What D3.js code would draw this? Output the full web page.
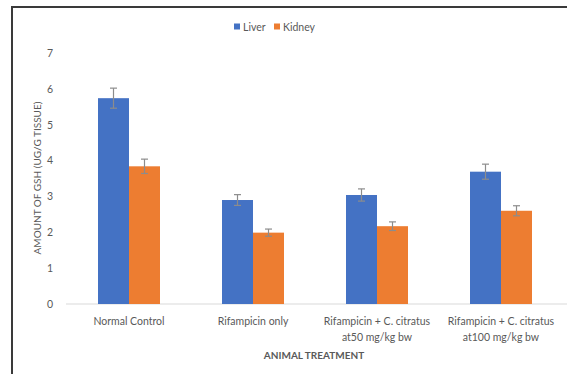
<!DOCTYPE html>
<html>
<head>
<meta charset="utf-8">
<script src="https://cdn.jsdelivr.net/npm/d3@7"></script>
<style>
  html, body { margin: 0; padding: 0; background: #fff; }
  svg { display: block; font-family: Lato, "Open Sans", sans-serif; }
</style>
</head>
<body>
<svg id="chart" width="567" height="374"></svg>
<script>
// Treatment groups (two-line labels where the axis wraps them)
const categories = [
  ["Normal Control"],
  ["Rifampicin only"],
  ["Rifampicin + C. citratus", "at50 mg/kg bw"],
  ["Rifampicin + C. citratus", "at100 mg/kg bw"]
];
const seriesNames = ["Liver", "Kidney"];
const seriesColors = ["#4472C4", "#ED7D31"];

// GSH amount (ug/g tissue), mean and error per organ
const liverValues  = [5.74, 2.90, 3.04, 3.69];
const kidneyValues = [3.84, 1.99, 2.17, 2.60];
const liverErrors  = [0.28, 0.15, 0.17, 0.21];
const kidneyErrors = [0.20, 0.10, 0.12, 0.14];

const yTicks = [0, 1, 2, 3, 4, 5, 6, 7];

const values = [liverValues, kidneyValues];
const errors = [liverErrors, kidneyErrors];

const svg = d3.select("#chart");

// Outer frame
svg.append("rect")
  .attr("x", 12).attr("y", 7)
  .attr("width", 600).attr("height", 400)
  .attr("fill", "none").attr("stroke", "#3a3a3a").attr("stroke-width", 2);

const plotLeft = 67, plotRight = 563, plotTop = 53, plotBottom = 304;

const keys = categories.map((c, i) => i);
const x0 = d3.scaleBand().domain(keys).range([plotLeft, plotRight]).padding(0);
const x1 = d3.scaleBand().domain(d3.range(seriesNames.length))
  .range([x0.bandwidth() / 4, x0.bandwidth() * 3 / 4]).padding(0);
const y = d3.scaleLinear().domain([0, 7]).range([plotBottom, plotTop]);

// Y axis tick labels (no axis line, no gridlines)
const yAxis = d3.axisLeft(y).tickValues(yTicks).tickFormat(d3.format("d"))
  .tickSize(0).tickPadding(0);
const yg = svg.append("g").attr("transform", `translate(${plotLeft - 14},0)`).call(yAxis);
yg.select(".domain").remove();
yg.selectAll("text")
  .attr("fill", "#595959")
  .attr("font-size", 10.5)
  .attr("font-family", "Lato, sans-serif");

// Baseline
svg.append("line")
  .attr("x1", plotLeft - 1).attr("x2", 567)
  .attr("y1", y(0)).attr("y2", y(0))
  .attr("stroke", "#d9d9d9").attr("stroke-width", 1);

// Bars
const groups = svg.append("g").selectAll("g")
  .data(keys).join("g")
  .attr("transform", d => `translate(${x0(d)},0)`);

seriesNames.forEach((name, s) => {
  groups.append("rect")
    .attr("x", x1(s))
    .attr("width", x1.bandwidth())
    .attr("y", d => y(values[s][d]))
    .attr("height", d => y(0) - y(values[s][d]))
    .attr("fill", seriesColors[s]);
});

// Error bars
seriesNames.forEach((name, s) => {
  const eg = groups.append("g").attr("stroke", "#8c8c8c").attr("stroke-width", 1.2);
  const cx = x1(s) + x1.bandwidth() / 2;
  eg.append("line")
    .attr("x1", cx).attr("x2", cx)
    .attr("y1", d => y(values[s][d] + errors[s][d]))
    .attr("y2", d => y(values[s][d] - errors[s][d]));
  [1, -1].forEach(sign => {
    eg.append("line")
      .attr("x1", cx - 3.5).attr("x2", cx + 3.5)
      .attr("y1", d => y(values[s][d] + sign * errors[s][d]))
      .attr("y2", d => y(values[s][d] + sign * errors[s][d]));
  });
});

// X category labels
const xl = svg.append("g");
keys.forEach(k => {
  const t = xl.append("text")
    .attr("x", x0(k) + x0.bandwidth() / 2)
    .attr("y", 325)
    .attr("text-anchor", "middle")
    .attr("fill", "#595959")
    .attr("font-size", 10.5);
  categories[k].forEach((line, li) => {
    t.append("tspan")
      .attr("x", x0(k) + x0.bandwidth() / 2)
      .attr("dy", li === 0 ? 0 : 15.5)
      .text(line);
  });
});

// Axis titles
svg.append("text")
  .attr("x", 314).attr("y", 359)
  .attr("text-anchor", "middle")
  .attr("font-size", 10).attr("font-weight", "bold")
  .attr("fill", "#595959")
  .text("ANIMAL TREATMENT");

svg.append("text")
  .attr("transform", `translate(41,178) rotate(-90)`)
  .attr("text-anchor", "middle")
  .attr("font-size", 10)
  .attr("fill", "#595959")
  .text("AMOUNT OF GSH (UG/G TISSUE)");

// Legend
const legend = svg.append("g");
const legendX = [234, 274];
seriesNames.forEach((name, s) => {
  legend.append("rect")
    .attr("x", legendX[s]).attr("y", 23.5)
    .attr("width", 6).attr("height", 6)
    .attr("fill", seriesColors[s]);
  legend.append("text")
    .attr("x", legendX[s] + 9).attr("y", 30.5)
    .attr("font-size", 10.5)
    .attr("fill", "#595959")
    .text(name);
});
</script>
</body>
</html>
